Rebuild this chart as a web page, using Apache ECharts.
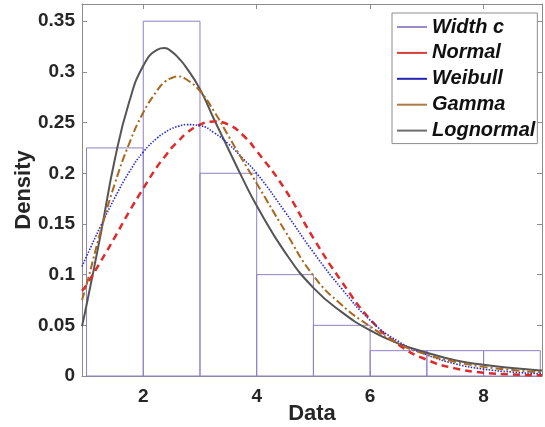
<!DOCTYPE html>
<html><head><meta charset="utf-8">
<script src="https://cdn.jsdelivr.net/npm/echarts@6/dist/echarts.min.js"></script>
<style>html,body{margin:0;padding:0;background:#fff}#c{width:545px;height:427px}</style>
</head><body><div id="c"></div>
<script>
// Histogram (bin width 1)
const binEdges = [1, 2, 3, 4, 5, 6, 7, 8, 9];
const binDensity = [0.225, 0.35, 0.2, 0.1, 0.05, 0.025, 0.025, 0.025];

// Fitted curves
const curveX =      [0.92, 1,     1.25,  1.5,   1.75,  2,     2.25,  2.375, 2.5,   2.625, 2.75,  3,     3.25,  3.5,   3.75,  4,     4.5,   5,     5.5,   6,     6.5,   7,     7.5,    8,      8.5,    9,      9.03];
const normalY =     [0.084, 0.090, 0.113, 0.137, 0.162, 0.185, 0.207, 0.216, 0.225, 0.232, 0.239, 0.248, 0.251, 0.248, 0.238, 0.222, 0.184, 0.136, 0.093, 0.056, 0.031, 0.016, 0.0075, 0.0032, 0.0015, 0.0008, 0.0008];
const weibullY =    [0.108, 0.118, 0.148, 0.176, 0.201, 0.221, 0.235, 0.240, 0.244, 0.2465, 0.248, 0.247, 0.240, 0.229, 0.215, 0.200, 0.162, 0.122, 0.086, 0.055, 0.034, 0.021, 0.012,  0.0068, 0.0040, 0.0025, 0.0025];
const gammaY =      [0.075, 0.090, 0.143, 0.190, 0.229, 0.260, 0.282, 0.290, 0.294, 0.2955, 0.293, 0.281, 0.261, 0.237, 0.213, 0.190, 0.143, 0.099, 0.070, 0.049, 0.032, 0.021, 0.014,  0.009,  0.006,  0.004,  0.004];
const lognormalY =  [0.049, 0.070, 0.140, 0.214, 0.270, 0.306, 0.322, 0.3235, 0.320, 0.3135, 0.305, 0.283, 0.253, 0.224, 0.195, 0.168, 0.122, 0.087, 0.063, 0.045, 0.032, 0.023, 0.0155, 0.011,  0.0078, 0.0055, 0.0054];

// Axes
const xTickValues = [2, 4, 6, 8];
const yTickValues = [0, 0.05, 0.1, 0.15, 0.2, 0.25, 0.3, 0.35];
const seriesNames = ['Width c', 'Normal', 'Weibull', 'Gamma', 'Lognormal'];

const bins = binDensity.map((d, i) => [binEdges[i], binEdges[i + 1], d]);
const pts = ys => curveX.map((x, i) => [x, ys[i]]);

const chart = echarts.init(document.getElementById('c'), null, {renderer: 'canvas'});
const font = 'Liberation Sans, Arial, sans-serif';
const boxColor = '#8c8c8c';

const baseX = {
  type: 'value', min: 0.92, max: 9.03,
  axisLine: {show: true, onZero: false, lineStyle: {color: boxColor, width: 1}},
  axisTick: {show: true, inside: true, length: 5, customValues: xTickValues, lineStyle: {color: boxColor}},
  splitLine: {show: false}
};
const baseY = {
  type: 'value', min: 0, max: 0.367,
  axisLine: {show: true, onZero: false, lineStyle: {color: boxColor, width: 1}},
  axisTick: {show: true, inside: true, length: 5, customValues: yTickValues, lineStyle: {color: boxColor}},
  splitLine: {show: false}
};
const lineCommon = {type: 'line', smooth: 0.5, symbol: 'none', showSymbol: false};

chart.setOption({
  animation: false,
  backgroundColor: '#fff',
  grid: {left: 82, right: 3, top: 4, bottom: 51, containLabel: false, outerBoundsMode: 'none'},
  xAxis: [
    Object.assign({}, baseX, {
      position: 'bottom',
      axisLabel: {customValues: xTickValues, fontSize: 19, fontWeight: 'bold', color: '#262626', fontFamily: font, margin: 11},
      name: 'Data', nameLocation: 'middle', nameGap: 27, nameMoveOverlap: false,
      nameTextStyle: {fontSize: 22, fontWeight: 'bold', color: '#262626', fontFamily: font}
    }),
    Object.assign({}, baseX, {position: 'top', axisLabel: {show: false}})
  ],
  yAxis: [
    Object.assign({}, baseY, {
      position: 'left',
      axisLabel: {customValues: yTickValues, fontSize: 19, fontWeight: 'bold', color: '#262626', fontFamily: font, margin: 7},
      name: 'Density', nameLocation: 'middle', nameGap: 47, nameMoveOverlap: false,
      nameTextStyle: {fontSize: 22, fontWeight: 'bold', color: '#262626', fontFamily: font}
    }),
    Object.assign({}, baseY, {position: 'right', axisLabel: {show: false}})
  ],
  legend: {
    orient: 'vertical', left: 392, top: 13,
    padding: [4, 2, 3, 5],
    backgroundColor: '#fff', borderColor: '#8c8c8c', borderWidth: 1,
    icon: 'rect', itemWidth: 30, itemHeight: 2, itemGap: 5.9,
    data: seriesNames,
    textStyle: {fontSize: 20, fontWeight: 'bold', fontStyle: 'italic', color: '#111', fontFamily: font, lineHeight: 20}
  },
  series: [
    {
      name: 'Width c', type: 'custom', xAxisIndex: 0, yAxisIndex: 0,
      itemStyle: {color: '#9a8cc8'},
      encode: {x: [0, 1], y: 2},
      data: bins,
      renderItem: (params, api) => {
        const p0 = api.coord([api.value(0), api.value(2)]);
        const p1 = api.coord([api.value(1), 0]);
        return {
          type: 'rect',
          shape: {x: p0[0], y: p0[1], width: p1[0] - p0[0], height: p1[1] - p0[1]},
          style: {fill: 'none', stroke: '#9080c4', lineWidth: 1}
        };
      },
      z: 1
    },
    Object.assign({}, lineCommon, {
      name: 'Normal', data: pts(normalY),
      itemStyle: {color: '#d93b3b'},
      lineStyle: {color: '#dd2a2a', width: 2.5, type: [7, 5]}, z: 3
    }),
    Object.assign({}, lineCommon, {
      name: 'Weibull', data: pts(weibullY),
      itemStyle: {color: '#2424b4'},
      lineStyle: {color: '#2a2ad0', width: 1.6, type: [1.5, 1.5]}, z: 4
    }),
    Object.assign({}, lineCommon, {
      name: 'Gamma', data: pts(gammaY),
      itemStyle: {color: '#b07a48'},
      lineStyle: {color: '#a8681e', width: 2, type: [8, 3, 2, 3]}, z: 5
    }),
    Object.assign({}, lineCommon, {
      name: 'Lognormal', data: pts(lognormalY),
      itemStyle: {color: '#6e6e6e'},
      lineStyle: {color: '#555555', width: 2}, z: 2
    })
  ]
});
</script>
</body></html>
